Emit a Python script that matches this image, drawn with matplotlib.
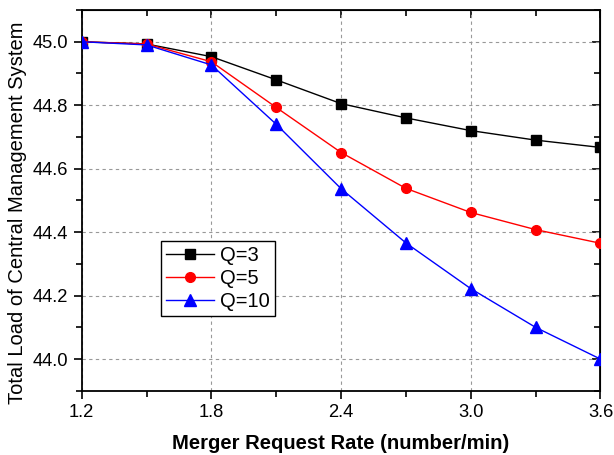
import matplotlib.pyplot as plt
from matplotlib.ticker import MultipleLocator

plt.rcParams['font.family'] = ['Liberation Sans', 'DejaVu Sans']

rate = [1.2, 1.5, 1.8, 2.1, 2.4, 2.7, 3.0, 3.3, 3.6]
load_q3 = [45.0, 44.993, 44.953, 44.88, 44.805, 44.76, 44.72, 44.69, 44.667]
load_q5 = [45.0, 44.993, 44.937, 44.793, 44.651, 44.538, 44.462, 44.408, 44.365]
load_q10 = [45.0, 44.99, 44.927, 44.74, 44.537, 44.366, 44.222, 44.1, 44.0]

fig = plt.figure(figsize=(6.14, 4.55), dpi=100)
ax = fig.add_axes([0.133, 0.141, 0.845, 0.837])

ax.plot(rate, load_q3, color='black', lw=1, marker='s', ms=7, label='Q=3', zorder=3)
ax.plot(rate, load_q5, color='red', lw=1, marker='o', ms=7, label='Q=5', zorder=3)
ax.plot(rate, load_q10, color='blue', lw=1, marker='^', ms=8, label='Q=10', zorder=3)

ax.set_xlim(1.2, 3.6)
ax.set_ylim(43.9, 45.1)
ax.xaxis.set_major_locator(MultipleLocator(0.6))
ax.xaxis.set_minor_locator(MultipleLocator(0.3))
ax.yaxis.set_major_locator(MultipleLocator(0.2))
ax.yaxis.set_minor_locator(MultipleLocator(0.1))
ax.xaxis.set_major_formatter(plt.FormatStrFormatter('%.1f'))
ax.yaxis.set_major_formatter(plt.FormatStrFormatter('%.1f'))

ax.tick_params(which='both', direction='out', labelsize=13.2, width=1.2)
ax.tick_params(which='major', length=6)
ax.tick_params(which='minor', length=4)
# mirrored ticks on top/right pointing in
ax2 = ax.secondary_xaxis('top')
ax2.xaxis.set_major_locator(MultipleLocator(0.6))
ax2.xaxis.set_minor_locator(MultipleLocator(0.3))
ax2.tick_params(which='both', direction='in', labeltop=False, width=1.2)
ax2.tick_params(which='major', length=6)
ax2.tick_params(which='minor', length=4)
ay2 = ax.secondary_yaxis('right')
ay2.yaxis.set_major_locator(MultipleLocator(0.2))
ay2.yaxis.set_minor_locator(MultipleLocator(0.1))
ay2.tick_params(which='both', direction='in', labelright=False, width=1.2)
ay2.tick_params(which='major', length=6)
ay2.tick_params(which='minor', length=4)

for s in ax.spines.values():
    s.set_linewidth(1.3)

ax.grid(True, which='major', color='#999999', ls=(0, (3, 3)), lw=0.8)

ax.set_xlabel('Merger Request Rate (number/min)', fontsize=14.6, fontweight='bold', labelpad=9)
ax.set_ylabel('Total Load of Central Management System', fontsize=14.5)
ax.yaxis.set_label_coords(-0.105, 0.467)

leg = ax.legend(loc='upper left', bbox_to_anchor=(0.153, 0.394), borderaxespad=0, fontsize=14.5,
                fancybox=False, framealpha=1, edgecolor='black',
                handlelength=2.4, borderpad=0.25, labelspacing=0.2, handletextpad=0.3)
leg.get_frame().set_linewidth(1.0)

fig.savefig('out.png', dpi=100)
